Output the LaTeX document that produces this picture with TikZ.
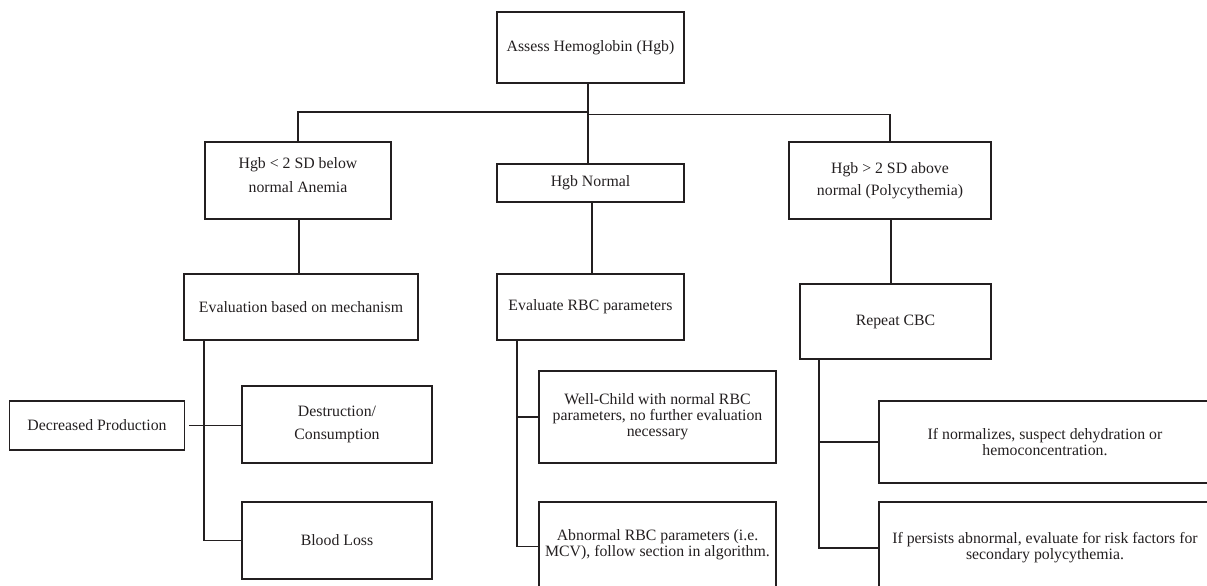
\documentclass[tikz,border=0pt]{standalone}
\usepackage{fontspec}
\setmainfont{Liberation Serif}
\definecolor{ink}{HTML}{231F20}
\begin{document}
\begin{tikzpicture}[x=1pt,y=-1pt,
  box/.style={draw=ink,line width=1.9pt,inner sep=0pt,align=center,text=ink,
    font=\fontsize{15.8}{16}\selectfont},
  conn/.style={draw=ink,line width=1.7pt}]
\path[use as bounding box] (0,0) rectangle (1207,586);
\clip (0,0) rectangle (1207,586);
% boxes
\node[box,minimum width=187pt,minimum height=71pt] (top) at (590.5,47.5) {Assess Hemoglobin (Hgb)};
\node[box,minimum width=186pt,minimum height=77pt,
  label={[align=center,text=ink,font=\fontsize{15.8}{16}\selectfont,yshift=5pt]center:{Hgb < 2 SD below\\[8pt]normal Anemia}}] (anemia) at (298,180.5) {};
\node[box,minimum width=187pt,minimum height=38pt] (normal) at (590.5,183) {Hgb Normal};
\node[box,minimum width=202pt,minimum height=77pt] (poly) at (890,180.5) {Hgb > 2 SD above\\[6pt]normal (Polycythemia)};
\node[box,minimum width=234pt,minimum height=66pt] (mech) at (301,307) {Evaluation based on mechanism};
\node[box,minimum width=187pt,minimum height=66pt] (rbc) at (590.5,307) {Evaluate RBC parameters};
\node[box,minimum width=191pt,minimum height=75pt] (repeat) at (895.5,321.5) {Repeat CBC};
\node[box,minimum width=175pt,minimum height=49pt] (dec) at (97,425.5) {Decreased Production};
\node[box,minimum width=190pt,minimum height=77pt] (destr) at (337,424.5) {Destruction/\\[7pt]Consumption};
\node[box,minimum width=190pt,minimum height=77pt] (blood) at (337,540.5) {Blood Loss};
\node[box,minimum width=237pt,minimum height=92pt] (well) at (657.5,417) {Well-Child with normal RBC\\parameters, no further evaluation\\necessary};
\node[box,minimum width=237pt,minimum height=86pt] (abn) at (657.5,545) {Abnormal RBC parameters (i.e.\\MCV), follow section in algorithm.};
\node[box,minimum width=332pt,minimum height=82pt] (nrm) at (1045,442) {If normalizes, suspect dehydration or\\hemoconcentration.};
\node[box,minimum width=332pt,minimum height=92pt] (pers) at (1045,548) {If persists abnormal, evaluate for risk factors for\\secondary polycythemia.};
% trunk and branches
\coordinate (jl) at (588,112);
\coordinate (jr) at (588,114.5);
\draw[conn] ([xshift=-2.5pt]top.south) -- ([xshift=-2.5pt]normal.north);
\draw[conn] (jl) -| (anemia.north);
\draw[conn] (jr) -| (poly.north);
\draw[conn] ([xshift=1pt]anemia.south) -- ([xshift=1pt]anemia.south |- mech.north);
\draw[conn] ([xshift=1.5pt]normal.south) -- ([xshift=1.5pt]normal.south |- rbc.north);
\draw[conn] ([xshift=1pt]poly.south) -- ([xshift=1pt]poly.south |- repeat.north);
% left bus
\coordinate (lb) at (204,340);
\draw[conn] (lb) |- (blood.west);
\draw[conn,shorten <=4pt] (dec.east) -- (dec.east -| destr.west);
% middle bus
\coordinate (mb) at (517,340);
\draw[conn] (mb) |- ([yshift=-1.5pt]abn.west);
\draw[conn] (mb |- well.west) -- (well.west);
% right bus
\coordinate (rb) at (819,359);
\draw[conn] (rb) |- (pers.west);
\draw[conn] (rb |- nrm.west) -- (nrm.west);
\end{tikzpicture}
\end{document}
